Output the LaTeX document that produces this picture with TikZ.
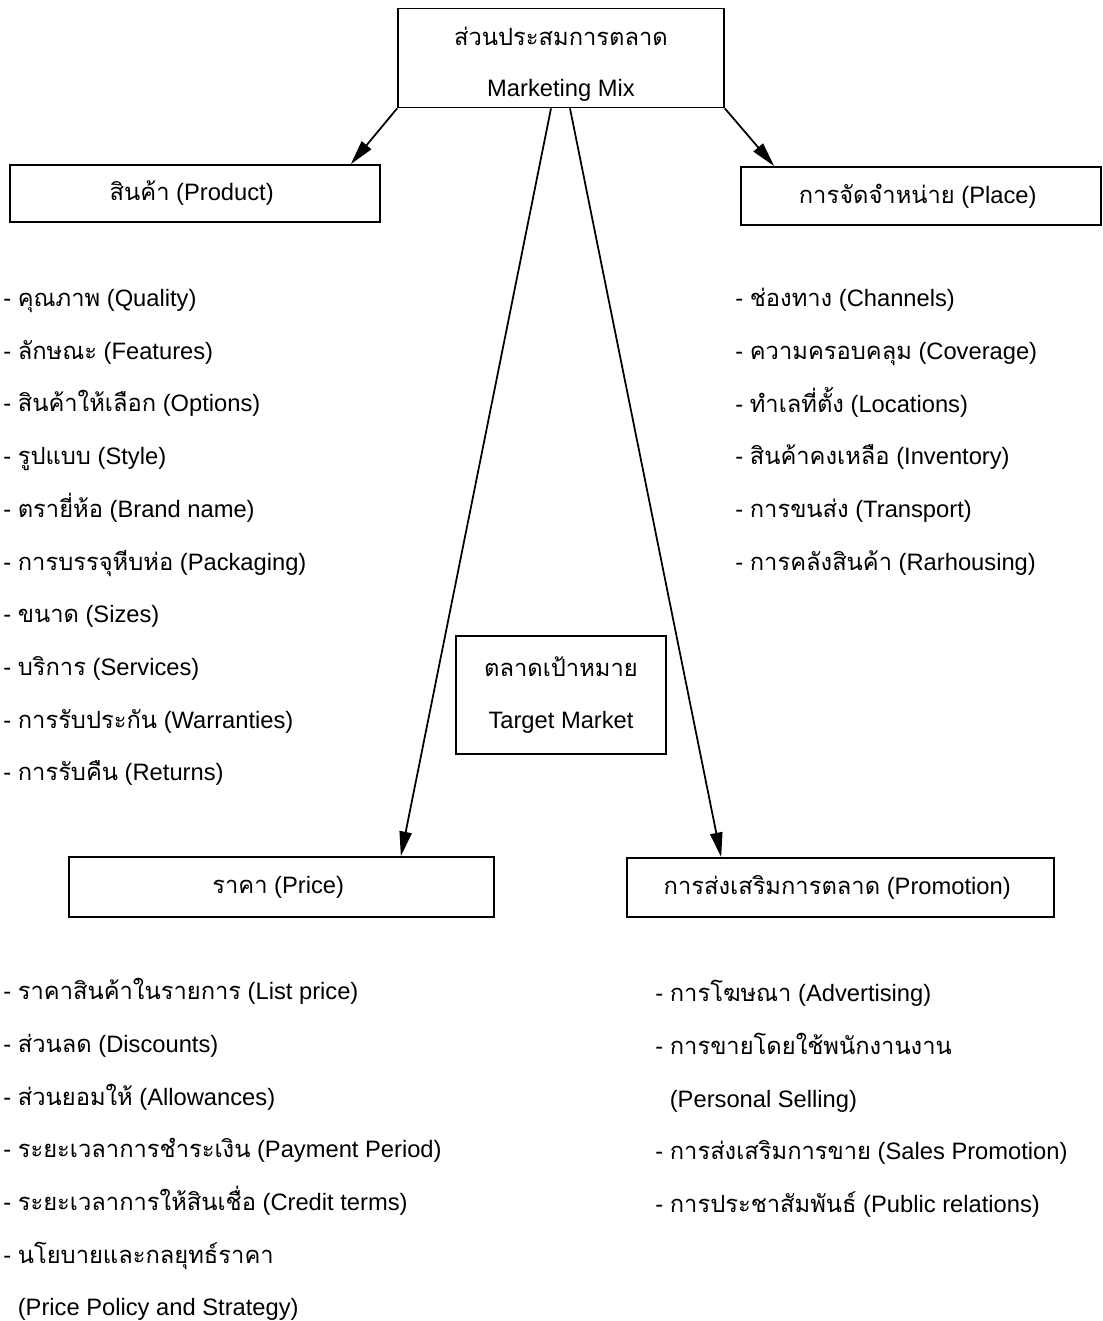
\documentclass[tikz,border=0pt]{standalone}
\usepackage{fontspec}
\setmainfont{Liberation Sans}
\newfontfamily\thaifont[Script=Thai]{Loma}
\newcommand{\tx}[1]{{\thaifont #1}}
\newcommand{\bajar}[1]{\raisebox{-3.4pt}[\height][\depth]{#1}}
\usetikzlibrary{arrows.meta}

\tikzset{
	caja/.style={draw=black, line width=1pt, align=center, inner sep=0pt},
	lista/.style={align=left, anchor=north west, inner sep=0pt},
	flecha/.style={-{Triangle[length=14pt,width=7pt]}, line width=1pt}
}

\begin{document}
\begin{tikzpicture}[x=0.02cm, y=-0.02cm, font=\fontsize{13.5}{30}\selectfont]
	
	\useasboundingbox (0,0) rectangle (1102,1321);
	
	% Mezcla
	\draw (561,58) node[caja, minimum width=6.52cm, minimum height=1.98cm] (mix)
	{
		\bajar{\tx{ส่วนประสมการตลาด}} \\[-1pt] \bajar{Marketing Mix}
	};
	
	% Producto
	\draw (195,193.5) node[caja, minimum width=7.4cm, minimum height=1.14cm] (producto)
	{
		\tx{สินค้า} (Product)
	};
	
	% Plaza
	\draw (921,196) node[caja, minimum width=7.2cm, minimum height=1.16cm] (plaza)
	{
		\tx{การจัดจำหน่าย} (Place)
	};
	
	% Mercado
	\draw (561,695) node[caja, minimum width=4.2cm, minimum height=2.36cm] (mercado)
	{
		\tx{ตลาดเป้าหมาย} \\ Target Market
	};
	
	% Precio
	\draw (281.5,887) node[caja, minimum width=8.5cm, minimum height=1.2cm] (precio)
	{
		\tx{ราคา} (Price)
	};
	
	% Promocion
	\draw (840.5,887.5) node[caja, minimum width=8.54cm, minimum height=1.18cm] (promocion)
	{
		\tx{การส่งเสริมการตลาด} (Promotion)
	};
	
	
	% Flechas
	
	\draw [flecha] (mix.south west) -- ([xshift=-0.6cm]producto.north east);
	\draw [flecha] (mix.south east) -- ([xshift=0.68cm]plaza.north west);
	\draw [flecha] ([xshift=-0.2cm]mix.south) -- ([xshift=-1.88cm]precio.north east);
	\draw [flecha] ([xshift=0.18cm]mix.south) -- ([xshift=1.9cm]promocion.north west);
	
	
	% Listas
	
	\draw (3,289) node[lista] (lproducto)
	{
		- \tx{คุณภาพ} (Quality) \\
		- \tx{ลักษณะ} (Features) \\
		- \tx{สินค้าให้เลือก}  (Options) \\
		- \tx{รูปแบบ} (Style) \\
		- \tx{ตรายี่ห้อ} (Brand name) \\
		- \tx{การบรรจุหีบห่อ}  (Packaging) \\
		- \tx{ขนาด} (Sizes) \\
		- \tx{บริการ} (Services) \\
		- \tx{การรับประกัน}  (Warranties) \\
		- \tx{การรับคืน} (Returns)
	};
	
	\draw (735,288) node[lista] (lplaza)
	{
		- \tx{ช่องทาง} (Channels) \\
		- \tx{ความครอบคลุม} (Coverage) \\
		- \tx{ทำเลที่ตั้ง} (Locations) \\
		- \tx{สินค้าคงเหลือ} (Inventory) \\
		- \tx{การขนส่ง} (Transport) \\
		- \tx{การคลังสินค้า} (Rarhousing)
	};
	
	\draw (3,978) node[lista] (lprecio)
	{
		- \tx{ราคาสินค้าในรายการ} (List price) \\
		- \tx{ส่วนลด} (Discounts) \\
		- \tx{ส่วนยอมให้} (Allowances) \\
		- \tx{ระยะเวลาการชำระเงิน} (Payment Period) \\
		- \tx{ระยะเวลาการให้สินเชื่อ} (Credit terms) \\
		- \tx{นโยบายและกลยุทธ์ราคา} \\
		\hphantom{- }(Price Policy and Strategy)
	};
	
	\draw (655,980) node[lista] (lpromocion)
	{
		- \tx{การโฆษณา} (Advertising) \\
		- \tx{การขายโดยใช้พนักงานงาน} \\
		\hphantom{- }(Personal Selling) \\
		- \tx{การส่งเสริมการขาย} (Sales Promotion) \\
		- \tx{การประชาสัมพันธ์} (Public relations)
	};
	
\end{tikzpicture}
\end{document}
